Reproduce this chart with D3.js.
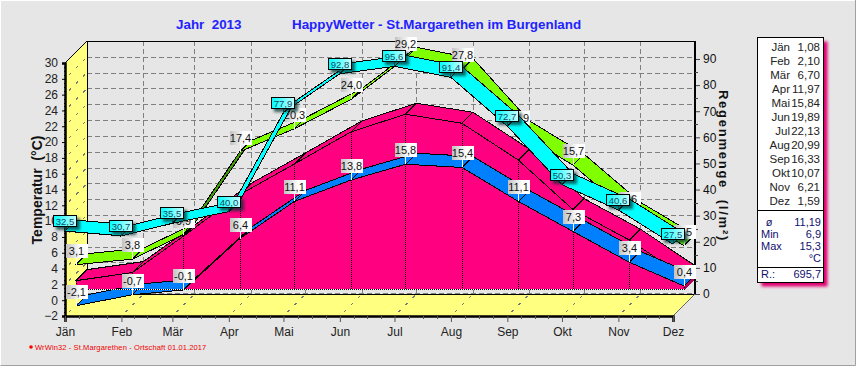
<!DOCTYPE html>
<html><head><meta charset="utf-8">
<script src="https://cdn.jsdelivr.net/npm/d3@7"></script>
<style>
html,body{margin:0;padding:0;background:#fff;overflow:hidden}
svg{display:block}
text{font-family:"Liberation Sans",Arial,sans-serif;white-space:pre}
</style></head><body><div id="chart"></div>
<script>
const months=["Jän","Feb","Mär","Apr","Mai","Jun","Jul","Aug","Sep","Okt","Nov","Dez"];
const monthStartDay=[0,31,59,90,120,151,181,212,243,273,304,334];
const tempMean=[-2.1,-0.7,-0.1,6.4,11.1,13.8,15.8,15.4,11.1,7.3,3.4,0.4];
const tempMax=[3.1,3.8,6.9,17.4,20.3,24.0,29.2,27.8,19.9,15.7,9.6,5.5];
const tempTable=[1.08,2.10,6.70,11.97,15.84,19.89,22.13,20.99,16.33,10.07,6.21,1.59];
const rain=[32.5,30.7,35.5,40.0,77.9,92.8,95.6,91.4,72.7,50.3,40.6,27.5];
const tempTicks=d3.range(-2,31,2);
const rainTicks=d3.range(0,91,10);
const summary=[["ø","11,19"],["Min","6,9"],["Max","15,3"],["","°C"]];
const rainTotal="695,7";
const fix1=v=>v.toFixed(1).replace(".",",");
const fix2=v=>v.toFixed(2).replace(".",",");

const W=856,H=366,D=11,DD=22;
const svg=d3.select("#chart").append("svg").attr("width",W).attr("height",H);
const defs=svg.append("defs");
const g1=defs.append("linearGradient").attr("id","lab");
g1.append("stop").attr("offset","0").attr("stop-color","#c2c2c2");
g1.append("stop").attr("offset","0.65").attr("stop-color","#ffffff");
const g2=defs.append("linearGradient").attr("id","cy");
g2.append("stop").attr("offset","0").attr("stop-color","#00ffff");
g2.append("stop").attr("offset","1").attr("stop-color","#c8ffff");
defs.append("filter").attr("id","blur").attr("x","-30%").attr("y","-50%").attr("width","160%").attr("height","200%")
  .append("feGaussianBlur").attr("stdDeviation",1.4);

const x=d3.scaleLinear().domain([0,334]).range([65,673]);
const yT=d3.scaleLinear().domain([-2,30]).range([316,63]);
const yR=d3.scaleLinear().domain([0,90]).range([316,81]);
const px=i=>x(monthStartDay[i]);
const snap=v=>Math.round(v)+0.5;

// canvas
svg.append("rect").attr("x",1).attr("y",1).attr("width",W-2).attr("height",H-2).attr("fill","#e6e6e6");
svg.append("path").attr("d",`M0.5 ${H-0.5}H${W-0.5}V0`).attr("stroke","#a0a0a0").attr("fill","none");

const plot=svg.append("g").attr("shape-rendering","crispEdges");
const line=(x1,y1,x2,y2,stroke,w,dash)=>plot.append("line").attr("x1",x1).attr("y1",y1).attr("x2",x2).attr("y2",y2)
  .attr("stroke",stroke).attr("stroke-width",w||1).attr("stroke-dasharray",dash||null);
const poly=(pts,fill,stroke)=>plot.append("polygon").attr("points",pts.map(p=>p.join(",")).join(" "))
  .attr("fill",fill).attr("stroke",stroke||"none");

// walls
poly([[x(0),yT(30)],[x(0)+DD,yT(30)-DD],[x(0)+DD,yT(-2)-DD],[x(0),yT(-2)]],"#ffff80");
poly([[x(0),yT(-2)],[x(0)+DD,yT(-2)-DD],[x(334)+DD,yT(-2)-DD],[x(334),yT(-2)]],"#ffff80");
tempTicks.forEach(t=>{
  line(x(0)+4,yT(t)-4,x(0)+DD,yT(t)-DD,"#777",1,"3,7");
  if(t>-2&&t<30) line(x(0)+DD,snap(yT(t)-DD),x(334)+DD,snap(yT(t)-DD),"#808080",1,"5,3");
});
monthStartDay.forEach((d,i)=>{
  if(i<11&&i>0) line(snap(x(d)+DD),yT(30)-DD,snap(x(d)+DD),yT(-2)-DD,"#808080",1,"5,3");
  line(x(d)+4,yT(-2)-4,x(d)+DD,yT(-2)-DD,"#777",1,"3,7");
});
line(x(0)+DD,snap(yT(-2)-DD-1),x(334)+DD,snap(yT(-2)-DD-1),"#808080",1,"5,3");
line(x(0)+DD,yT(30)-DD,x(334)+DD,yT(30)-DD,"#000");
line(x(0)+DD,yT(30)-DD,x(0)+DD,yT(-2)-DD,"#000");
line(x(0),yT(30),x(0)+DD,yT(30)-DD,"#000");
line(x(0)+DD,yT(-2)-DD,x(334)+DD,yT(-2)-DD,"#000");
line(x(334),yT(-2),x(334)+DD,yT(-2)-DD,"#666");

function ribbon(parent,vals,y,d0,d1,fill,under){
  for(let i=0;i<11;i++){
    const a=[px(i)+d0,y(vals[i])-d0],b=[px(i+1)+d0,y(vals[i+1])-d0];
    const c=[px(i+1)+d1,y(vals[i+1])-d1],e=[px(i)+d1,y(vals[i])-d1];
    const steep=(b[1]-a[1])/(b[0]-a[0])<-1;
    parent.append("polygon").attr("points",[a,b,c,e].map(p=>p.join(",")).join(" "))
      .attr("fill",steep&&under?under:fill).attr("stroke","#000").attr("shape-rendering","crispEdges");
  }
}
function underFill(vals){
  const pts=vals.map((v,i)=>[px(i)+D,Math.min(yT(v),yT(0))-D]);
  pts.push([px(11)+D,yT(0)-D],[px(0)+D,yT(0)-D]);
  poly(pts,"#ff0080");
}
underFill(tempTable);
ribbon(plot,tempTable,yT,D,DD,"#ff0080");
underFill(tempMean);
ribbon(plot,tempMean,yT,D,DD,"#0080ff");
line(px(11)+D,yT(0)-D-1,px(11)+DD,yT(0)-DD-1,"#b0005a",3);
// drop lines and baseline
const by0=snap(yT(0)-D);
line(px(0)+D,by0,px(11)+D,by0,"#fff");
line(px(0)+D,by0,px(11)+D,by0,"#000",1,"1,1");
tempTable.forEach((v,i)=>line(snap(px(i)+D),yT(Math.max(v,0))-D,snap(px(i)+D),by0,"#000",1,"1,1"));

// axes
const axL=svg.append("g").attr("transform",`translate(${x(0)},0)`)
  .call(d3.axisLeft(yT).tickValues(tempTicks).tickSize(3).tickPadding(4).tickFormat(d3.format("d")));
axL.select(".domain").attr("stroke-width",2.5);
axL.selectAll("text").attr("font-size",12).attr("fill","#222").attr("font-family","Liberation Sans");
const axLm=svg.append("g").attr("transform",`translate(${x(0)+1},0)`).attr("shape-rendering","crispEdges")
  .call(d3.axisLeft(yT).tickValues(d3.range(-2,30.1,0.5)).tickSize(2).tickFormat(""));
axLm.select(".domain").attr("stroke","none");

const axB=svg.append("g").attr("transform",`translate(0,${yT(-2)})`)
  .call(d3.axisBottom(x).tickValues(monthStartDay).tickSize(6).tickPadding(5).tickFormat((d,i)=>months[i]));
axB.select(".domain").attr("stroke-width",2.5);
axB.selectAll("line").attr("stroke","#555");
axB.selectAll("text").attr("font-size",12).attr("fill","#222").attr("font-family","Liberation Sans");
const minor=[];
monthStartDay.slice(0,-1).forEach((d,i)=>{const n=monthStartDay[i+1]-d;[1,2,3].forEach(k=>minor.push(d+n*k/4));});
const axBm=svg.append("g").attr("transform",`translate(0,${yT(-2)})`).attr("shape-rendering","crispEdges")
  .call(d3.axisBottom(x).tickValues(minor).tickSize(3).tickFormat(""));
axBm.select(".domain").attr("stroke","none");
axBm.selectAll("line").attr("stroke","#555");

const yRb=d3.scaleLinear().domain([0,90]).range([yR(0)-DD,yR(90)-DD]);
const axR=svg.append("g").attr("transform",`translate(${x(334)+DD},0)`)
  .call(d3.axisRight(yRb).tickValues(rainTicks).tickSize(5).tickPadding(3).tickFormat(d3.format("d")));
axR.select(".domain").remove();
axR.selectAll("text").attr("font-size",12).attr("fill","#111").attr("font-family","Liberation Sans");
axR.selectAll("line").attr("stroke","#444");
svg.append("line").attr("x1",x(334)+DD).attr("x2",x(334)+DD).attr("y1",yT(30)-DD).attr("y2",yR(0)-DD).attr("stroke","#000").attr("stroke-width",2);
const axRm=svg.append("g").attr("transform",`translate(${x(334)+DD},0)`).attr("shape-rendering","crispEdges")
  .call(d3.axisRight(yRb).tickValues(d3.range(5,90,10)).tickSize(3).tickFormat(""));
axRm.select(".domain").attr("stroke","none");
axRm.selectAll("line").attr("stroke","#444");

function grayLabels(parent,vals,y){
  vals.forEach((v,i)=>{
    const cx=snap(px(i)+D), py=y(v)-D;
    parent.append("line").attr("x1",cx).attr("x2",cx).attr("y1",py-8).attr("y2",py).attr("stroke","#fff").attr("shape-rendering","crispEdges");
    parent.append("rect").attr("x",Math.round(cx-11)).attr("y",Math.round(py-21)).attr("width",22).attr("height",14).attr("fill","url(#lab)").attr("shape-rendering","crispEdges");
    parent.append("text").attr("x",cx).attr("y",py-10).attr("text-anchor","middle").attr("font-size",11).attr("fill","#111").text(fix1(v));
  });
}
grayLabels(svg.append("g"),tempMean,yT);

const plot2=svg.append("g");
ribbon(plot2,tempMax,yT,D,DD,"#80ff00","#3f9f00");
grayLabels(svg.append("g"),tempMax,yT);
const plot3=svg.append("g");
ribbon(plot3,rain,yR,0,D,"#00ffff");

// rain labels
const rl=svg.append("g");
rain.forEach((v,i)=>{
  const cx=px(i), py=yR(v);
  const bx=Math.round(cx-12), by=Math.round(py-16);
  rl.append("rect").attr("x",bx+3).attr("y",by+3).attr("width",24).attr("height",12).attr("fill","#003030").attr("opacity",0.75).attr("filter","url(#blur)");
  rl.append("line").attr("x1",cx).attr("x2",cx).attr("y1",by+12).attr("y2",py).attr("stroke","#005050").attr("shape-rendering","crispEdges");
  rl.append("rect").attr("x",bx+0.5).attr("y",by+0.5).attr("width",23).attr("height",11).attr("fill","url(#cy)").attr("stroke","#000").attr("stroke-width",1.4).attr("shape-rendering","crispEdges");
  rl.append("text").attr("x",bx+12).attr("y",by+9.5).attr("text-anchor","middle").attr("font-size",9.5).attr("fill","#114a60").text(fix1(v));
});

// titles
const title=(t,xx,yy)=>svg.append("text").attr("x",xx).attr("y",yy).attr("font-size",13.4).attr("font-weight","bold").attr("fill","#2222ff").text(t);
title("Jahr  2013",176,29);
title("HappyWetter - St.Margarethen im Burgenland",292,29);

svg.append("text").attr("transform","translate(42,190) rotate(-90)").attr("text-anchor","middle")
  .attr("font-size",14).attr("font-weight","bold").attr("fill","#111").text("Temperatur  (°C)");
svg.append("text").attr("transform","translate(719,166) rotate(90)").attr("text-anchor","middle")
  .attr("font-size",13).attr("font-weight","bold").attr("letter-spacing",1.75).attr("fill","#111").text("Regenmenge  (l/m²)");

// footer
svg.append("circle").attr("cx",31).attr("cy",347).attr("r",1.8).attr("fill","#ff0000");
svg.append("text").attr("x",35).attr("y",350).attr("font-size",7.5).attr("letter-spacing",0.12).attr("fill","#f00000")
  .text("WrWin32 - St.Margarethen - Ortschaft 01.01.2017");

// side table
const T={x:757.5,y:37.5,w:66,h:245};
svg.append("rect").attr("x",T.x+4).attr("y",T.y+4).attr("width",T.w).attr("height",T.h).attr("fill","#e00070").attr("filter","url(#blur)");
svg.append("rect").attr("x",T.x).attr("y",T.y).attr("width",T.w).attr("height",T.h).attr("fill","#fff").attr("stroke","#000").attr("shape-rendering","crispEdges");
[210.5,267.5].forEach(yy=>svg.append("line").attr("x1",T.x).attr("x2",T.x+T.w).attr("y1",yy).attr("y2",yy).attr("stroke","#000").attr("shape-rendering","crispEdges"));
months.forEach((m,i)=>{
  const yy=50.5+i*14;
  svg.append("text").attr("x",790).attr("y",yy).attr("text-anchor","end").attr("font-size",11.5).attr("fill","#222").text(m);
  svg.append("text").attr("x",820).attr("y",yy).attr("text-anchor","end").attr("font-size",11.5).attr("fill","#222").text(fix2(tempTable[i]));
});
summary.forEach((r,i)=>{
  const yy=225.5+i*12;
  svg.append("text").attr("x",r[0]==="ø"?769:761).attr("y",yy).attr("text-anchor",r[0]==="ø"?"middle":"start").attr("font-size",11).attr("fill","#101070").text(r[0]);
  svg.append("text").attr("x",821).attr("y",yy).attr("text-anchor","end").attr("font-size",11).attr("fill","#101070").text(r[1]);
});
svg.append("text").attr("x",761).attr("y",278).attr("font-size",11).attr("fill","#101070").text("R.:");
svg.append("text").attr("x",821).attr("y",278).attr("text-anchor","end").attr("font-size",11).attr("fill","#101070").text(rainTotal);
</script></body></html>
